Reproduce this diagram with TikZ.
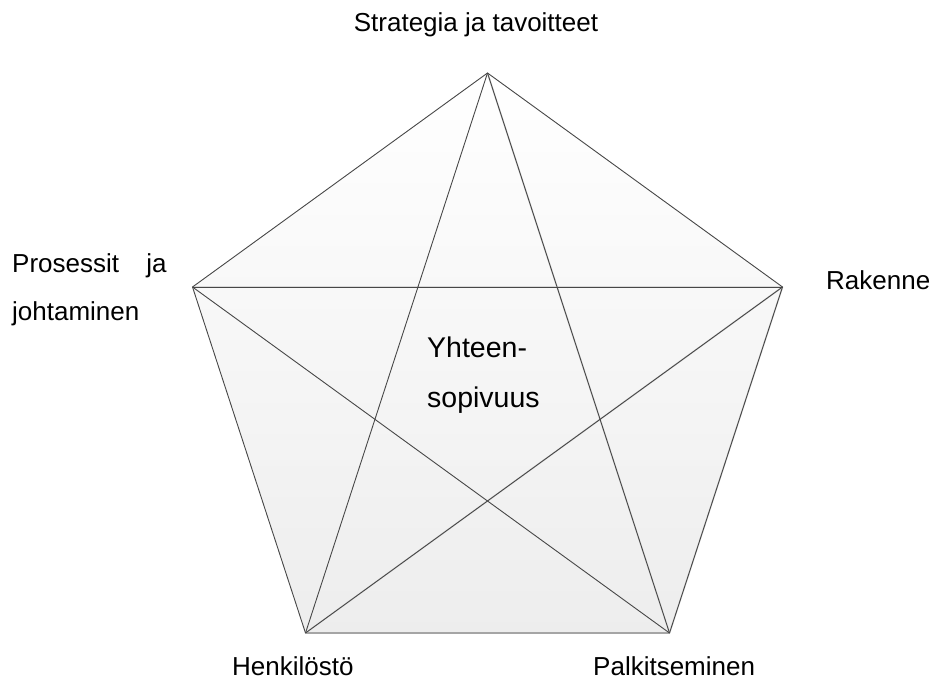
\documentclass[tikz,border=0pt]{standalone}
\usepackage{fontspec}
\setmainfont{Liberation Sans}
\begin{document}
\begin{tikzpicture}[x=1pt,y=-1pt,
  edge/.style={draw=black!72,line width=0.9pt,line join=miter},
  shadowline/.style={draw=black!15,line width=1.6pt},
  lbl/.style={font=\fontsize{26}{30}\selectfont,inner sep=0pt,text=black},
  centerlbl/.style={font=\fontsize{28.5}{34}\selectfont,inner sep=0pt,text=black}]
\useasboundingbox (0,0) rectangle (934,680);
% vertices
\coordinate (T) at (487.5,73);
\coordinate (R) at (782.5,287);
\coordinate (BR) at (669.5,633);
\coordinate (BL) at (305.5,633);
\coordinate (L) at (192.5,287);
% fill
\shade[top color=white,bottom color=black!7] (T) -- (R) -- (BR) -- (BL) -- (L) -- cycle;
% shadows
\begin{scope}[shift={(1.5,1.8)}]
\draw[shadowline] (L) -- (R);
\draw[shadowline] (T) -- (BR);
\draw[shadowline] (R) -- (BL);
\draw[shadowline] (R) -- (BR);
\draw[shadowline] (BR) -- (BL);
\end{scope}
% outline
\draw[edge] (T) -- (R) -- (BR) -- (BL) -- (L) -- cycle;
% star
\draw[edge] (T) -- (BL);
\draw[edge] (T) -- (BR);
\draw[edge] (L) -- (R);
\draw[edge] (L) -- (BR);
\draw[edge] (R) -- (BL);
% labels
\node[lbl,anchor=base] (strat) at (476,31) {Strategia ja tavoitteet};
\node[lbl,anchor=base west] (pros) at (12,272) {Prosessit\hspace{1.05em}ja};
\node[lbl,anchor=base west] (joht) at (12,320) {johtaminen};
\node[lbl,anchor=base west] (rak) at (826,289) {Rakenne};
\node[lbl,anchor=base west] (henk) at (232,675) {Henkilöstö};
\node[lbl,anchor=base west] (palk) at (593,675) {Palkitseminen};
\node[centerlbl,anchor=base west] (yht) at (427,357) {Yhteen-};
\node[centerlbl,anchor=base west] (sopi) at (427,407) {sopivuus};
\end{tikzpicture}
\end{document}
